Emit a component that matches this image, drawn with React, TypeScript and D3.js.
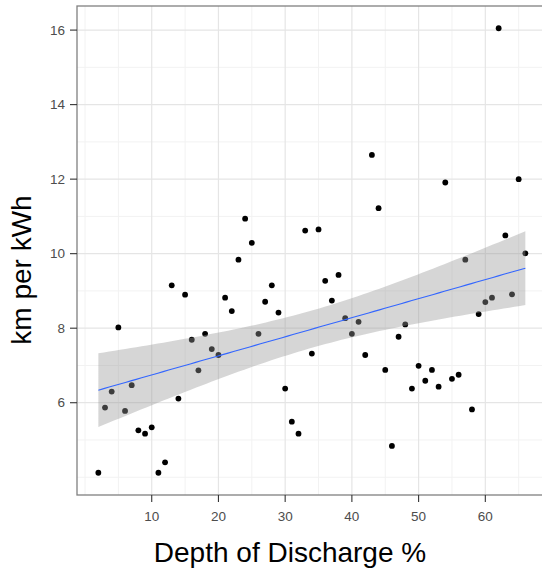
import React from 'react';
import * as d3 from 'd3';

const depthOfDischarge = [2, 3, 4, 5, 6, 7, 8, 9, 10, 11, 12, 13, 14, 15, 16, 17, 18, 19, 20, 21, 22, 23, 24, 25, 26, 27, 28, 29, 30, 31, 32, 33, 34, 35, 36, 37, 38, 39, 40, 41, 42, 43, 44, 45, 46, 47, 48, 49, 50, 51, 52, 53, 54, 55, 56, 57, 58, 59, 60, 61, 62, 63, 64, 65, 66];
const kmPerKWh = [4.12, 5.87, 6.30, 8.02, 5.78, 6.47, 5.26, 5.17, 5.34, 4.12, 4.40, 9.15, 6.11, 8.90, 7.69, 6.87, 7.85, 7.44, 7.28, 8.82, 8.46, 9.84, 10.94, 10.29, 7.85, 8.71, 9.15, 8.42, 6.38, 5.49, 5.17, 10.62, 7.32, 10.65, 9.27, 8.74, 9.43, 8.27, 7.85, 8.17, 7.28, 12.65, 11.22, 6.88, 4.84, 7.77, 8.10, 6.38, 6.99, 6.59, 6.88, 6.43, 11.91, 6.64, 6.75, 9.84, 5.82, 8.38, 8.70, 8.82, 16.05, 10.49, 8.91, 12.0, 10.01];

const xBreaks = [10, 20, 30, 40, 50, 60];
const xMinor = [0, 5, 15, 25, 35, 45, 55, 65];
const yBreaks = [6, 8, 10, 12, 14, 16];
const yMinor = [4, 5, 7, 9, 11, 13, 15];

const xTitle = 'Depth of Discharge %';
const yTitle = 'km per kWh';

const FONT = '"Liberation Sans", Arial, Helvetica, sans-serif';

function expand(ext: [number, number]): [number, number] {
  const r = ext[1] - ext[0];
  return [ext[0] - 0.05 * r, ext[1] + 0.05 * r];
}

export default function App() {
  const W = 542, H = 568;
  const left = 77, right = 546.7, top = 6, bottom = 495;

  const x = d3.scaleLinear()
    .domain(expand(d3.extent(depthOfDischarge) as [number, number]))
    .range([left, right]);
  const y = d3.scaleLinear()
    .domain(expand(d3.extent(kmPerKWh) as [number, number]))
    .range([bottom, top]);

  // linear model with 95% confidence band (like geom_smooth(method = "lm"))
  const n = depthOfDischarge.length;
  const mx = d3.mean(depthOfDischarge)!;
  const my = d3.mean(kmPerKWh)!;
  let sxx = 0, sxy = 0;
  depthOfDischarge.forEach((xi, i) => {
    sxx += (xi - mx) * (xi - mx);
    sxy += (xi - mx) * (kmPerKWh[i] - my);
  });
  const slope = sxy / sxx;
  const intercept = my - slope * mx;
  let sse = 0;
  depthOfDischarge.forEach((xi, i) => {
    const r = kmPerKWh[i] - (intercept + slope * xi);
    sse += r * r;
  });
  const s = Math.sqrt(sse / (n - 2));
  const tq = 1.9983;
  const [x0, x1] = d3.extent(depthOfDischarge) as [number, number];
  const grid = d3.range(80).map(i => x0 + (x1 - x0) * i / 79);
  const fit = grid.map(gx => {
    const yh = intercept + slope * gx;
    const se = s * Math.sqrt(1 / n + (gx - mx) * (gx - mx) / sxx);
    return { gx, yh, lo: yh - tq * se, hi: yh + tq * se };
  });

  const area = d3.area<any>()
    .x(d => x(d.gx))
    .y0(d => y(d.lo))
    .y1(d => y(d.hi));
  const line = d3.line<any>()
    .x(d => x(d.gx))
    .y(d => y(d.yh));

  return (
    <svg width={W} height={H} style={{ position: 'absolute', left: 0, top: 0, background: '#fff' }} fontFamily={FONT}>
      <rect x={0} y={0} width={W} height={H} fill="#fff" />
      <rect x={left} y={top} width={right - left} height={bottom - top} fill="#fff" />
      {xMinor.map(v => (
        <line key={'xm' + v} x1={x(v)} x2={x(v)} y1={top} y2={bottom} stroke="#F2F2F2" strokeWidth={1} />
      ))}
      {yMinor.map(v => (
        <line key={'ym' + v} x1={left} x2={right} y1={y(v)} y2={y(v)} stroke="#F2F2F2" strokeWidth={1} />
      ))}
      {xBreaks.map(v => (
        <line key={'xM' + v} x1={x(v)} x2={x(v)} y1={top} y2={bottom} stroke="#E5E5E5" strokeWidth={1.2} />
      ))}
      {yBreaks.map(v => (
        <line key={'yM' + v} x1={left} x2={right} y1={y(v)} y2={y(v)} stroke="#E5E5E5" strokeWidth={1.2} />
      ))}
      {depthOfDischarge.map((xi, i) => (
        <circle key={'p' + i} cx={x(xi)} cy={y(kmPerKWh[i])} r={2.9} fill="#000" />
      ))}
      <path d={area(fit)!} fill="#999999" fillOpacity={0.4} />
      <path d={line(fit)!} fill="none" stroke="#3366FF" strokeWidth={1.1} />
      <rect x={left} y={top} width={right - left} height={bottom - top} fill="none" stroke="#808080" strokeWidth={1.3} />
      {xBreaks.map(v => (
        <g key={'xt' + v}>
          <line x1={x(v)} x2={x(v)} y1={bottom} y2={bottom + 7} stroke="#333" strokeWidth={1.1} />
          <text x={x(v)} y={bottom + 25.5} textAnchor="middle" fontSize={13.5} fill="#4D4D4D">{v}</text>
        </g>
      ))}
      {yBreaks.map(v => (
        <g key={'yt' + v}>
          <line x1={left - 7} x2={left} y1={y(v)} y2={y(v)} stroke="#333" strokeWidth={1.1} />
          <text x={left - 12} y={y(v)} dy="0.35em" textAnchor="end" fontSize={13.5} fill="#4D4D4D">{v}</text>
        </g>
      ))}
      <text x={290} y={562} textAnchor="middle" fontSize={28} fill="#000">{xTitle}</text>
      <text transform="translate(30.5,270) rotate(-90)" textAnchor="middle" fontSize={28} fill="#000">{yTitle}</text>
    </svg>
  );
}
